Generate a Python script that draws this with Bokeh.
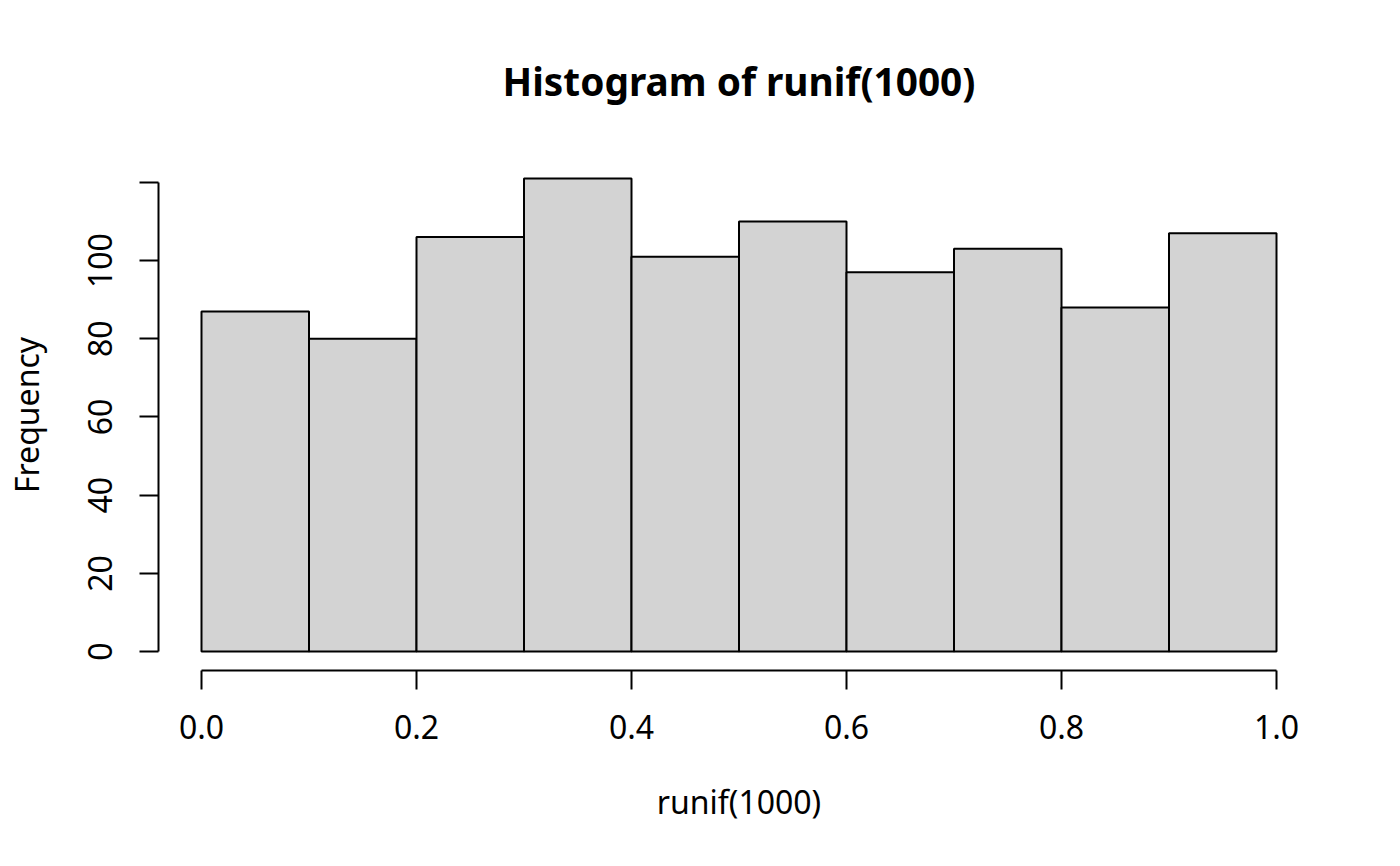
from bokeh.plotting import figure
from bokeh.models import Range1d, FixedTicker, Title
from bokeh.embed import file_html
from bokeh.resources import INLINE

# Data
bin_left = [0.0, 0.1, 0.2, 0.3, 0.4, 0.5, 0.6, 0.7, 0.8, 0.9]
bin_right = [0.1, 0.2, 0.3, 0.4, 0.5, 0.6, 0.7, 0.8, 0.9, 1.0]
counts = [87, 80, 106, 121, 101, 110, 97, 103, 88, 107]
x_ticks = [0.0, 0.2, 0.4, 0.6, 0.8, 1.0]
y_ticks = [0, 20, 40, 60, 80, 100, 120]
x_tick_labels = {0.0: "0.0", 0.2: "0.2", 0.4: "0.4", 0.6: "0.6", 0.8: "0.8", 1.0: "1.0"}
y_tick_labels = {0: "0", 20: "20", 40: "40", 60: "60", 80: "80", 100: "100", 120: ""}

FONT = "Noto Sans"
W, H = 1384, 850

# R-style 4% range extension
xmin, xmax = min(bin_left), max(bin_right)
ymin, ymax = 0, max(counts)
dx = (xmax - xmin) * 0.04
dy = (ymax - ymin) * 0.04

p = figure(width=W, height=H, output_backend="svg", toolbar_location=None,
           x_range=Range1d(xmin - dx, xmax + dx), y_range=Range1d(ymin - dy, ymax + dy),
           min_border_left=158, min_border_right=65, min_border_top=158, min_border_bottom=180)
p.outline_line_color = None
p.xgrid.visible = False
p.ygrid.visible = False
p.background_fill_color = "white"
p.border_fill_color = "white"

p.quad(left=bin_left, right=bin_right, bottom=0, top=counts,
       fill_color="#D3D3D3", line_color="black", line_width=2)

for ax in (p.xaxis[0], p.yaxis[0]):
    ax.axis_line_width = 2
    ax.major_tick_line_width = 2
    ax.major_tick_in = 0
    ax.major_tick_out = 19
    ax.minor_tick_line_color = None
    ax.major_label_text_font = FONT
    ax.major_label_text_font_size = "32px"
    ax.major_label_text_color = "black"
    ax.axis_label_text_font = FONT
    ax.axis_label_text_font_size = "32px"
    ax.axis_label_text_font_style = "normal"
    ax.axis_label_text_color = "black"

xa = p.xaxis[0]
xa.ticker = FixedTicker(ticks=x_ticks)
xa.major_label_overrides = x_tick_labels
xa.bounds = (xmin, xmax)
xa.major_label_standoff = 25
xa.axis_label = "runif(1000)"
xa.axis_label_standoff = 38

ya = p.yaxis[0]
ya.ticker = FixedTicker(ticks=y_ticks)
ya.major_label_overrides = y_tick_labels
ya.bounds = (min(y_ticks), max(y_ticks))
ya.major_label_orientation = "vertical"
ya.major_label_standoff = 27
ya.axis_label = "Frequency"
ya.axis_label_standoff = 38

p.title = Title(text="Histogram of runif(1000)", align="center",
                text_font=FONT, text_font_size="38.8px", text_font_style="bold",
                text_color="black", standoff=105)

open("out.html", "w").write(file_html(p, INLINE))
